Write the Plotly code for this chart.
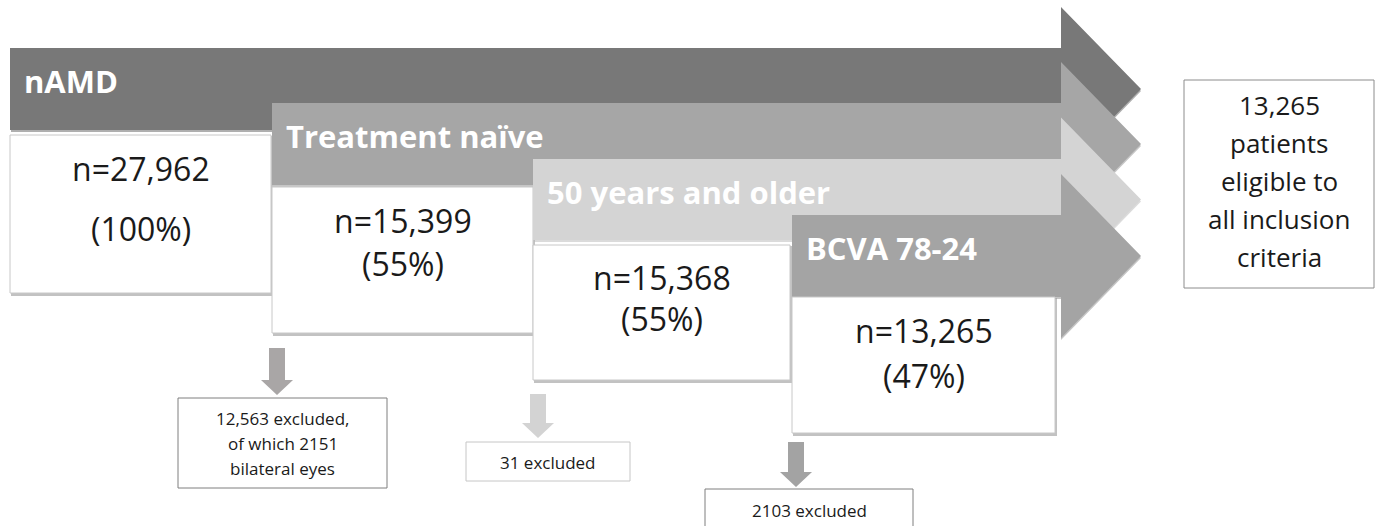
import plotly.graph_objects as go

# ---- data ----
stage_labels = ["nAMD", "Treatment naïve", "50 years and older", "BCVA 78-24"]
stage_counts = ["n=27,962", "n=15,399", "n=15,368", "n=13,265"]
stage_percents = ["(100%)", "(55%)", "(55%)", "(47%)"]
excluded_lines = [
    ["12,563 excluded,", "of which 2151", "bilateral eyes"],
    ["31 excluded"],
    ["2103 excluded"],
]
final_lines = ["13,265", "patients", "eligible to", "all inclusion", "criteria"]

# ---- layout geometry (pixel space) ----
W, H = 1377, 526
arrow_left = [10, 272, 533, 792]
arrow_top = [48, 103, 159, 215]
arrow_bot = [130, 185, 240, 297]
arrow_head_base = 1061
arrow_tip = 1141
arrow_head_half = 82
arrow_colors = ["#787878", "#a6a6a6", "#d4d4d4", "#a4a4a4"]
arrow_shadow = ["#5f5f5f", "#8e8e8e", "#b8b8b8", "#8c8c8c"]

box_x0 = [10, 272, 533, 792]
box_x1 = [271, 533, 790, 1055]
box_y0 = [135, 187, 245, 297]
box_y1 = [293, 333, 380, 433]
count_y = [168, 220, 277, 330]
pct_y = [228, 263, 318, 375]

down_cx = [277, 538, 796]
down_top = [348, 394, 442]
down_head = [380, 423, 472]
down_tip = [395, 438, 487]
down_colors = ["#a9a6a6", "#d3d3d3", "#a3a3a3"]
exbox = [(178, 387, 398, 488), (466, 630, 442, 481), (705, 913, 489, 545)]
exbox_line = ["#7f7f7f", "#c6c6c6", "#7f7f7f"]
ex_text_y0 = [418, 462, 510]
ex_line_gap = 25

final_box = (1184, 1374, 80, 288)
final_y0 = 105
final_gap = 38

FONT = "Open Sans"

shapes = []
annotations = []


def arrow_path(l, t, b):
    c = (t + b) / 2
    return (f"M {l},{t} L {arrow_head_base},{t} L {arrow_head_base},{c - arrow_head_half} "
            f"L {arrow_tip},{c} L {arrow_head_base},{c + arrow_head_half} "
            f"L {arrow_head_base},{b} L {l},{b} Z")


def text(x, y, s, size, color="#1a1a1a", bold=False, xanchor="center"):
    annotations.append(dict(
        x=x, y=y, xref="x", yref="y", text=f"<b>{s}</b>" if bold else s,
        showarrow=False, xanchor=xanchor, yanchor="middle",
        font=dict(family=FONT, size=size, color=color)))


for i in range(4):
    l, t, b = arrow_left[i], arrow_top[i], arrow_bot[i]
    # shadow
    shapes.append(dict(type="path", path=arrow_path(l + 1, t + 2, b + 2), xref="x", yref="y",
                       fillcolor=arrow_shadow[i], opacity=0.5, line=dict(width=0)))
    shapes.append(dict(type="path", path=arrow_path(l, t, b), xref="x", yref="y",
                       fillcolor=arrow_colors[i], line=dict(width=0)))
    # box with shadow
    shapes.append(dict(type="rect", x0=box_x0[i] + 1, x1=box_x1[i] + 2, y0=box_y0[i] + 1, y1=box_y1[i] + 3,
                       xref="x", yref="y", fillcolor="#9a9a9a", opacity=0.6, line=dict(width=0)))
    shapes.append(dict(type="rect", x0=box_x0[i], x1=box_x1[i], y0=box_y0[i], y1=box_y1[i],
                       xref="x", yref="y", fillcolor="#ffffff", line=dict(color="#c8c8c8", width=1)))

for i in range(4):
    text(arrow_left[i] + 12, arrow_top[i] + 33, stage_labels[i], 31, color="#ffffff", bold=True, xanchor="left")
    cx = (box_x0[i] + box_x1[i]) / 2
    text(cx, count_y[i], stage_counts[i], 32)
    text(cx, pct_y[i], stage_percents[i], 32)

for i in range(3):
    cx = down_cx[i]
    p = (f"M {cx - 8},{down_top[i]} L {cx + 8},{down_top[i]} L {cx + 8},{down_head[i]} "
         f"L {cx + 16},{down_head[i]} L {cx},{down_tip[i]} L {cx - 16},{down_head[i]} "
         f"L {cx - 8},{down_head[i]} Z")
    shapes.append(dict(type="path", path=p, xref="x", yref="y", fillcolor=down_colors[i], line=dict(width=0)))
    x0, x1, y0, y1 = exbox[i]
    shapes.append(dict(type="rect", x0=x0, x1=x1, y0=y0, y1=y1, xref="x", yref="y",
                       fillcolor="#ffffff", line=dict(color=exbox_line[i], width=1)))
    for j, s in enumerate(excluded_lines[i]):
        text((x0 + x1) / 2, ex_text_y0[i] + j * ex_line_gap, s, 17)

x0, x1, y0, y1 = final_box
shapes.append(dict(type="rect", x0=x0, x1=x1, y0=y0, y1=y1, xref="x", yref="y",
                   fillcolor="#ffffff", line=dict(color="#8c8c8c", width=1)))
for j, s in enumerate(final_lines):
    text((x0 + x1) / 2, final_y0 + j * final_gap, s, 26)

fig = go.Figure()
fig.update_layout(
    width=W, height=H, margin=dict(l=0, r=0, t=0, b=0),
    paper_bgcolor="#ffffff", plot_bgcolor="#ffffff",
    xaxis=dict(range=[0, W], visible=False, fixedrange=True),
    yaxis=dict(range=[H, 0], visible=False, fixedrange=True),
    shapes=shapes, annotations=annotations, showlegend=False,
)
fig.write_html(
    "out.html",
    config={"displayModeBar": False},
    post_script="document.body.style.margin='0';document.body.style.padding='0';document.body.style.overflow='hidden';",
)
